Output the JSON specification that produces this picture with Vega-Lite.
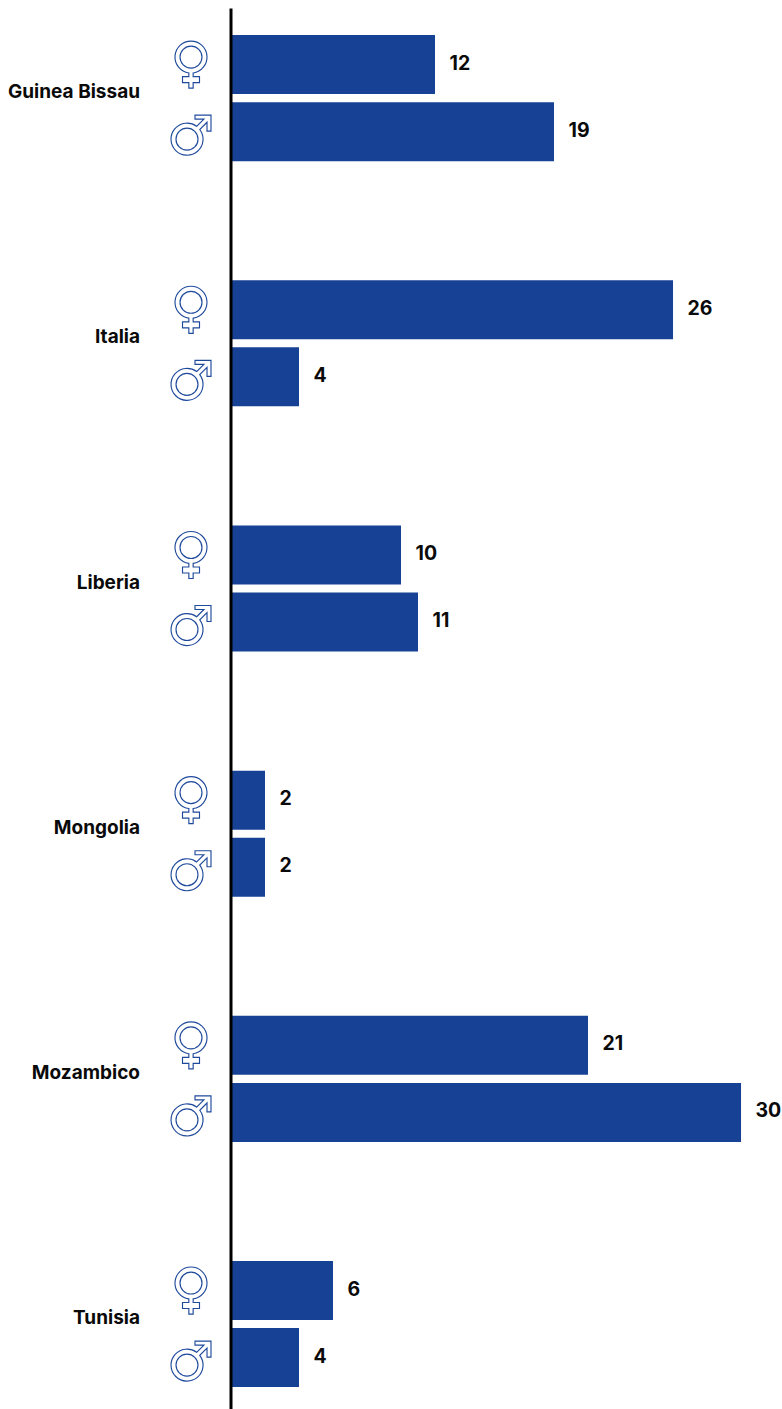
{"$schema":"https://vega.github.io/schema/vega-lite/v6.json","width":551,"height":1401,"autosize":{"type":"none"},"padding":{"left":231,"top":8,"right":0,"bottom":0},"background":"white","config":{"view":{"stroke":null}},"data":{"values":[{"country":"Guinea Bissau","sex":"F","value":12},{"country":"Guinea Bissau","sex":"M","value":19},{"country":"Italia","sex":"F","value":26},{"country":"Italia","sex":"M","value":4},{"country":"Liberia","sex":"F","value":10},{"country":"Liberia","sex":"M","value":11},{"country":"Mongolia","sex":"F","value":2},{"country":"Mongolia","sex":"M","value":2},{"country":"Mozambico","sex":"F","value":21},{"country":"Mozambico","sex":"M","value":30},{"country":"Tunisia","sex":"F","value":6},{"country":"Tunisia","sex":"M","value":4}]},"encoding":{"y":{"field":"country","type":"nominal","sort":null,"title":null,"scale":{"paddingInner":0.486,"paddingOuter":0.1,"align":0.553},"axis":{"zindex":1,"ticks":false,"grid":false,"offset":0.5,"domainColor":"#000000","domainWidth":3,"labelPadding":91,"labelOffset":-6,"labelFont":"Inter","labelFontWeight":700,"labelFontSize":19,"labelColor":"#0a0a0a","labelLimit":200}},"yOffset":{"field":"sex","type":"nominal","sort":["F","M"],"scale":{"paddingInner":0.12,"paddingOuter":0}}},"layer":[{"mark":{"type":"bar","color":"#174194","cornerRadius":0},"encoding":{"x":{"field":"value","type":"quantitative","title":null,"scale":{"domain":[0,32.41],"nice":false,"zero":true},"axis":null}}},{"mark":{"type":"text","align":"left","baseline":"middle","dx":14.5,"dy":-1,"font":"Inter","fontWeight":700,"fontSize":19.5,"color":"#0a0a0a"},"encoding":{"x":{"field":"value","type":"quantitative"},"text":{"field":"value","type":"quantitative"}}},{"mark":{"type":"point","filled":false,"size":2304,"stroke":"#1f4a9c","strokeWidth":1.15,"opacity":1,"xOffset":-40},"encoding":{"x":{"datum":0,"type":"quantitative"},"shape":{"field":"sex","type":"nominal","legend":null,"scale":{"domain":["F","M"],"range":["M-0.09 0.348 L-0.09 0.5 L-0.354 0.5 L-0.354 0.75 L-0.09 0.75 L-0.09 0.98 L0.09 0.98 L0.09 0.75 L0.354 0.75 L0.354 0.5 L0.09 0.5 L0.09 0.348 A0.667 0.667 0 1 0 -0.09 0.348 Z M0.458 -0.3125 A0.458 0.458 0 1 0 -0.458 -0.3125 A0.458 0.458 0 1 0 0.458 -0.3125 Z","M0.235 -0.219 L0.5375 -0.521 L0.167 -0.521 L0.167 -0.6875 L0.833 -0.6875 L0.833 -0.021 L0.667 -0.021 L0.667 -0.392 L0.365 -0.09 A0.667 0.667 0 1 1 0.235 -0.219 Z M0.291 0.3125 A0.458 0.458 0 1 0 -0.625 0.3125 A0.458 0.458 0 1 0 0.291 0.3125 Z"]}}}}]}
